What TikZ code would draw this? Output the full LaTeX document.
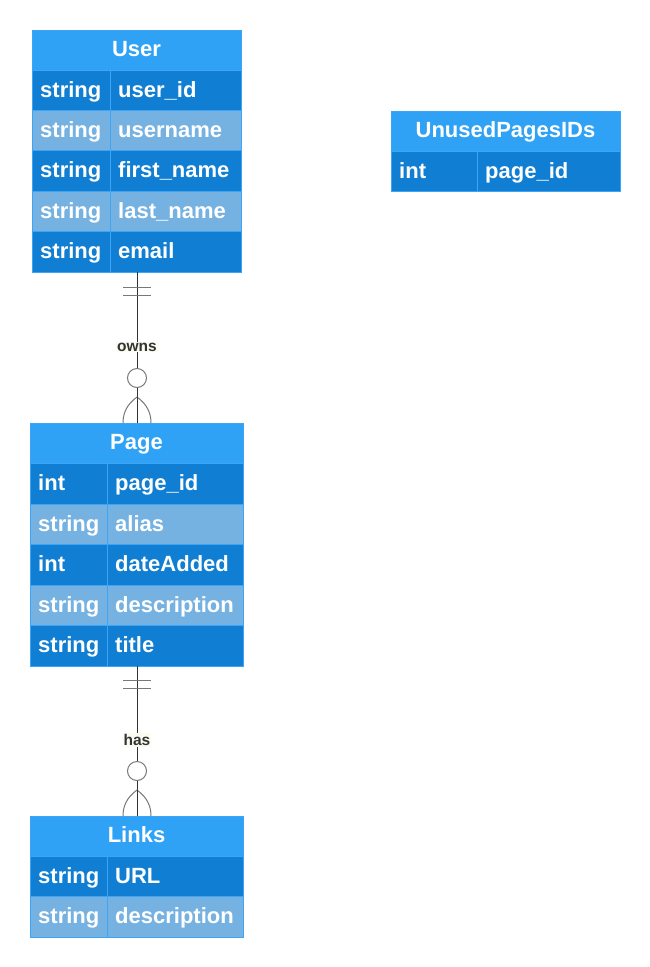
\documentclass[tikz,border=0pt]{standalone}
\usepackage{fontspec}
\setmainfont{Liberation Sans}
\definecolor{hdr}{RGB}{47,162,245}
\definecolor{drow}{RGB}{16,126,210}
\definecolor{lrow}{RGB}{118,178,225}
\definecolor{bord}{RGB}{60,165,245}
\definecolor{lnk}{RGB}{51,51,51}
\definecolor{gr}{RGB}{120,120,120}
\definecolor{lblbg}{RGB}{250,252,240}
\tikzset{
  txt/.style={text=white, font=\bfseries\fontsize{22}{24}\selectfont, inner sep=0pt, anchor=base west},
  htxt/.style={text=white, font=\bfseries\fontsize{22}{24}\selectfont, inner sep=0pt, anchor=base},
  rel/.style={draw=lnk, line width=1pt},
  relmark/.style={draw=gr, line width=1pt},
  lbl/.style={fill=lblbg, text=lnk, font=\bfseries\fontsize{15.5}{17}\selectfont, inner sep=1pt}
}
\newcommand{\erhead}[5]{% name, x1, x2, y1, y2
  \fill[hdr] (#2,#4) rectangle (#3,#5);
  \node[htxt] (#1h) at ({(#2+#3)/2},{(#4+#5)/2+6.5}) {#1};
}
\begin{document}
\begin{tikzpicture}[x=1pt,y=-1pt]
\useasboundingbox (0,0) rectangle (650,967);
% ---------- User ----------
\erhead{User}{32}{241}{30}{70}
\fill[drow] (32,70) rectangle (241,110);
\fill[lrow] (32,110) rectangle (241,150);
\fill[drow] (32,150) rectangle (241,191);
\fill[lrow] (32,191) rectangle (241,231);
\fill[drow] (32,231) rectangle (241,272);
\foreach \y in {70,110,150,191,231} \draw[bord,line width=1pt] (32,\y) -- (241,\y);
\draw[bord,line width=1pt] (110,70) -- (110,272);
\draw[bord,line width=1pt] (32,30) rectangle (241,272);
\node[txt] (u1t) at (40,97) {string};   \node[txt] (u1n) at (118,97) {user\_id};
\node[txt] (u2t) at (40,137) {string};  \node[txt] (u2n) at (118,137) {username};
\node[txt] (u3t) at (40,177.5) {string};\node[txt] (u3n) at (118,177.5) {first\_name};
\node[txt] (u4t) at (40,218) {string};  \node[txt] (u4n) at (118,218) {last\_name};
\node[txt] (u5t) at (40,258.5) {string};\node[txt] (u5n) at (118,258.5) {email};
\coordinate (ubot) at (137,272);
% ---------- UnusedPagesIDs ----------
\erhead{UnusedPagesIDs}{391}{620}{111}{151}
\fill[drow] (391,151) rectangle (620,191);
\draw[bord,line width=1pt] (391,151) -- (620,151);
\draw[bord,line width=1pt] (477,151) -- (477,191);
\draw[bord,line width=1pt] (391,111) rectangle (620,191);
\node[txt] (q1t) at (399,178) {int}; \node[txt] (q1n) at (485,178) {page\_id};
% ---------- Page ----------
\erhead{Page}{30}{243}{423}{463}
\fill[drow] (30,463) rectangle (243,504);
\fill[lrow] (30,504) rectangle (243,544);
\fill[drow] (30,544) rectangle (243,585);
\fill[lrow] (30,585) rectangle (243,625);
\fill[drow] (30,625) rectangle (243,666);
\foreach \y in {463,504,544,585,625} \draw[bord,line width=1pt] (30,\y) -- (243,\y);
\draw[bord,line width=1pt] (107,463) -- (107,666);
\draw[bord,line width=1pt] (30,423) rectangle (243,666);
\node[txt] (p1t) at (38,490.5) {int};    \node[txt] (p1n) at (115,490.5) {page\_id};
\node[txt] (p2t) at (38,531) {string};   \node[txt] (p2n) at (115,531) {alias};
\node[txt] (p3t) at (38,571.5) {int};    \node[txt] (p3n) at (115,571.5) {dateAdded};
\node[txt] (p4t) at (38,612) {string};   \node[txt] (p4n) at (115,612) {description};
\node[txt] (p5t) at (38,652.5) {string}; \node[txt] (p5n) at (115,652.5) {title};
\coordinate (ptop) at (137,423);
\coordinate (pbot) at (137,666);
% ---------- Links ----------
\erhead{Links}{30}{243}{816}{856}
\fill[drow] (30,856) rectangle (243,896);
\fill[lrow] (30,896) rectangle (243,937);
\draw[bord,line width=1pt] (30,856) -- (243,856);
\draw[bord,line width=1pt] (30,896) -- (243,896);
\draw[bord,line width=1pt] (107,856) -- (107,937);
\draw[bord,line width=1pt] (30,816) rectangle (243,937);
\node[txt] (l1t) at (38,883) {string}; \node[txt] (l1n) at (115,883) {URL};
\node[txt] (l2t) at (38,923.5) {string}; \node[txt] (l2n) at (115,923.5) {description};
\coordinate (ltop) at (137,816);
% ---------- owns ----------
\draw[rel] (ubot) -- (ptop);
\draw[relmark] (123,287) -- (151,287);
\draw[relmark] (123,295) -- (151,295);
\node[lbl] (owns) at (137,347) {owns};
\draw[relmark, fill=white] (137,378) circle (9.5);
\draw[relmark] (137,397) .. controls (126,405) and (123,414) .. (123,423);
\draw[relmark] (137,397) .. controls (148,405) and (151,414) .. (151,423);
\draw[rel] (137,397) -- (ptop);
% ---------- has ----------
\draw[rel] (pbot) -- (ltop);
\draw[relmark] (123,680) -- (151,680);
\draw[relmark] (123,688) -- (151,688);
\node[lbl] (has) at (137,740) {has};
\draw[relmark, fill=white] (137,771) circle (9.5);
\draw[relmark] (137,790) .. controls (126,798) and (123,807) .. (123,816);
\draw[relmark] (137,790) .. controls (148,798) and (151,807) .. (151,816);
\draw[rel] (137,790) -- (ltop);
\end{tikzpicture}
\end{document}
